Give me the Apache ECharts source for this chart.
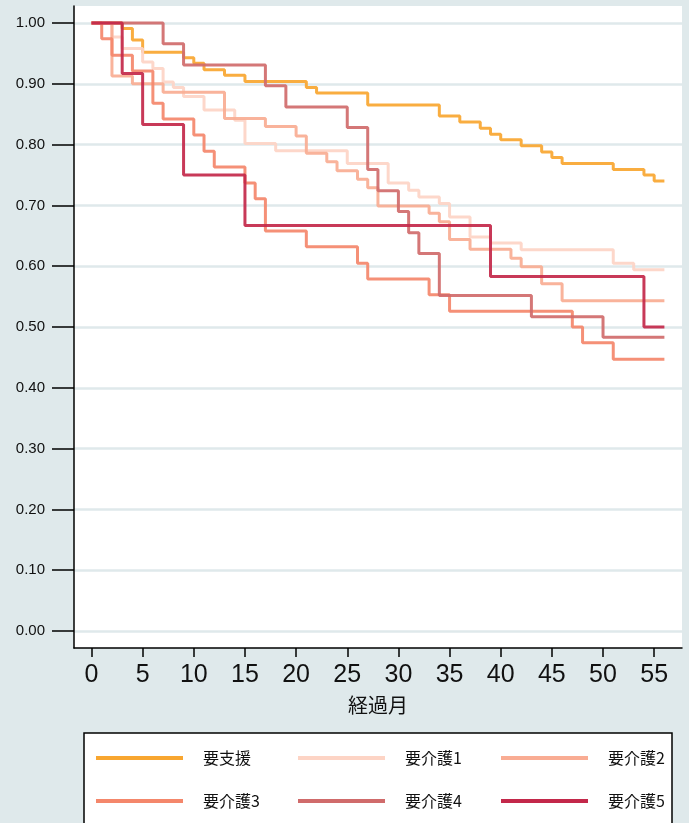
<!DOCTYPE html>
<html><head><meta charset="utf-8">
<script src="https://cdn.jsdelivr.net/npm/echarts@6/dist/echarts.min.js"></script>
<style>html,body{margin:0;padding:0;background:#dfe9eb;}#c{width:689px;height:823px;}</style>
</head><body><div id="c"></div>
<script>
const seriesNames = ['要支援','要介護1','要介護2','要介護3','要介護4','要介護5'];
const monthsSupport = [0,3,4,5,9,10,11,13,15,21,22,27,34,36,38,39,40,42,44,45,46,51,54,55,56];
const survSupport   = [1,0.991,0.972,0.952,0.943,0.934,0.923,0.914,0.904,0.894,0.885,0.865,0.847,0.837,0.827,0.817,0.808,0.798,0.788,0.779,0.769,0.759,0.750,0.740,0.740];
const monthsCare1 = [0,2,3,5,6,7,8,9,11,14,15,18,25,29,31,32,34,35,37,39,42,51,53,56];
const survCare1   = [1,0.977,0.958,0.936,0.925,0.903,0.894,0.879,0.857,0.840,0.802,0.790,0.769,0.737,0.725,0.714,0.703,0.681,0.648,0.638,0.627,0.605,0.594,0.594];
const monthsCare2 = [0,2,4,7,13,17,20,21,23,24,26,27,28,33,34,35,37,41,42,44,46,56];
const survCare2   = [1,0.913,0.900,0.886,0.843,0.830,0.814,0.786,0.772,0.757,0.743,0.729,0.699,0.687,0.673,0.644,0.628,0.613,0.599,0.571,0.543,0.543];
const monthsCare3 = [0,1,2,4,6,7,10,11,12,15,16,17,21,26,27,33,35,47,48,51,56];
const survCare3   = [1,0.974,0.947,0.921,0.868,0.842,0.816,0.789,0.763,0.737,0.711,0.658,0.632,0.605,0.579,0.553,0.526,0.500,0.474,0.447,0.447];
const monthsCare4 = [0,7,9,17,19,25,27,28,30,31,32,34,43,50,56];
const survCare4   = [1,0.966,0.931,0.897,0.862,0.828,0.759,0.724,0.690,0.655,0.621,0.552,0.517,0.483,0.483];
const monthsCare5 = [0,3,5,9,15,39,54,56];
const survCare5   = [1,0.917,0.833,0.750,0.667,0.583,0.500,0.500];
const xTickValues = [0,5,10,15,20,25,30,35,40,45,50,55];
const yTickValues = [0,0.1,0.2,0.3,0.4,0.5,0.6,0.7,0.8,0.9,1.0];
const xAxisTitle = '経過月';

const colors = ['#f8a630','#fdd4c5','#f9ac93','#f4876b','#d06b6b','#c3284a'];
const monthsList = [monthsSupport,monthsCare1,monthsCare2,monthsCare3,monthsCare4,monthsCare5];
const survList = [survSupport,survCare1,survCare2,survCare3,survCare4,survCare5];

const chart = echarts.init(document.getElementById('c'));
const series = seriesNames.map((name,i)=>({
  name, type:'line', step:'end', showSymbol:false, symbol:'none',
  color: colors[i],
  lineStyle:{width:3,color:colors[i],opacity:0.92},
  itemStyle:{color:colors[i]},
  data: monthsList[i].map((m,j)=>[m, survList[i][j]]),
  z: 3+i
}));
const legendPos = [[96,750],[298,750],[501,750],[96,793],[298,793],[501,793]];
const legends = seriesNames.map((name,i)=>({
  data:[name], left:legendPos[i][0], top:legendPos[i][1], padding:0,
  icon:'rect', itemWidth:87, itemHeight:4, z:10,
  textStyle:{fontSize:16, color:'#111', fontFamily:'"Noto Sans CJK JP", "Liberation Sans", sans-serif', padding:[0,0,0,15]}
}));
chart.setOption({
  backgroundColor:'#dfe9eb',
  animation:false,
  graphic:[{type:'rect', z:1, shape:{x:84,y:733,width:588,height:130}, style:{fill:'#fff',stroke:'#000',lineWidth:1.5}}],
  legend: legends,
  grid:{left:74,right:7,top:6,bottom:175,show:true,backgroundColor:'#fff',borderWidth:0,containLabel:false},
  xAxis:{type:'value', min:-1.71, max:57.72,
    axisLine:{show:true,onZero:false,lineStyle:{color:'#000',width:1.5}},
    axisTick:{show:true,length:9,customValues:xTickValues,lineStyle:{color:'#000',width:1.5}},
    axisLabel:{customValues:xTickValues,fontSize:25,color:'#111',margin:15,fontFamily:'"Liberation Sans", Arial, sans-serif'},
    splitLine:{show:false},
    name:xAxisTitle, nameLocation:'middle', nameGap:47,
    nameTextStyle:{fontSize:20,color:'#111',fontFamily:'"Noto Sans CJK JP", sans-serif'}
  },
  yAxis:{type:'value', min:-0.028, max:1.028,
    axisLine:{show:true,onZero:false,lineStyle:{color:'#000',width:1.5}},
    axisTick:{show:true,length:22,customValues:yTickValues,lineStyle:{color:'#000',width:1.5}},
    axisLabel:{customValues:yTickValues,fontSize:15,color:'#111',margin:29,fontFamily:'"Liberation Sans", Arial, sans-serif',
      formatter:v=>Number(v).toFixed(2)},
    splitLine:{show:true,lineStyle:{color:'#dfe9eb',width:2.5}}
  },
  series
});
</script></body></html>
